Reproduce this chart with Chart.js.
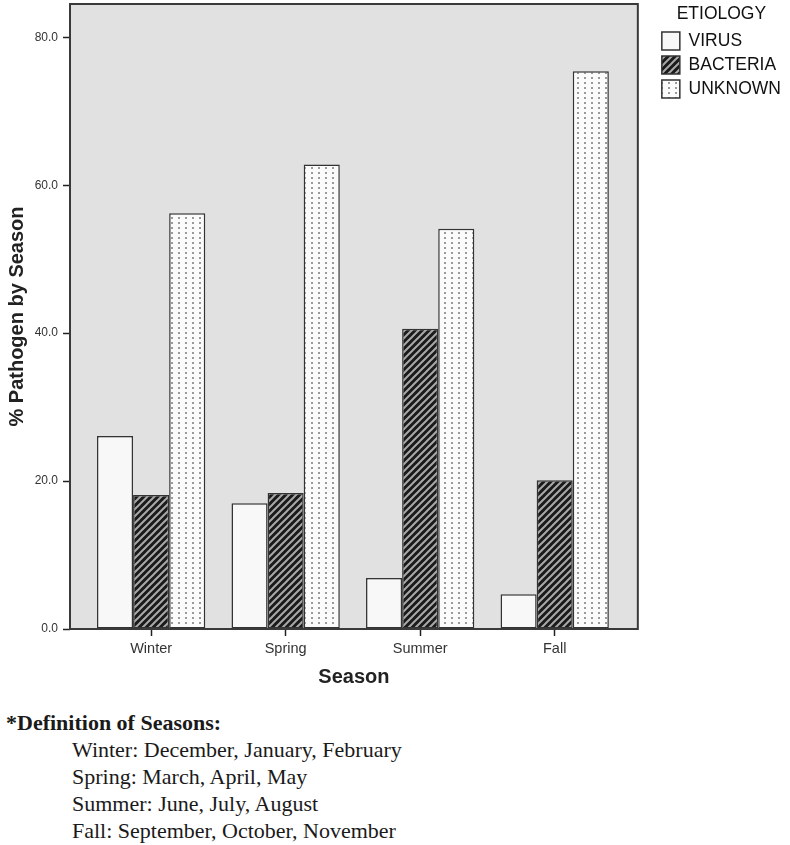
<!DOCTYPE html>
<html>
<head>
<meta charset="utf-8">
<title>Pathogen by Season</title>
<script src="https://cdn.jsdelivr.net/npm/chart.js@4.4.0/dist/chart.umd.min.js"></script>
<style>
  body { margin: 0; background: #fff; }
  #wrap { position: relative; width: 790px; height: 845px; }
  #chart { position: absolute; left: 0; top: 0; }
  #note {
    position: absolute; left: 0; top: 709px; width: 790px;
    font-family: "Liberation Serif", "Times New Roman", serif;
    font-size: 22px; line-height: 27px; color: #1a1a1a;
  }
  #note .head { padding-left: 6px; font-weight: bold; }
  #note .line { padding-left: 72px; }
</style>
</head>
<body>
<div id="wrap">
  <canvas id="chart" width="790" height="700"></canvas>
  <div id="note">
    <div class="head">*Definition of Seasons:</div>
    <div class="line">Winter: December, January, February</div>
    <div class="line">Spring: March, April, May</div>
    <div class="line">Summer: June, July, August</div>
    <div class="line">Fall: September, October, November</div>
  </div>
</div>
<script>
const seasons = ['Winter', 'Spring', 'Summer', 'Fall']
const virus = [26.1, 17.0, 6.9, 4.7]
const bacteria = [18.1, 18.4, 40.6, 20.1]
const unknown = [56.2, 62.8, 54.1, 75.4]
const yTicks = [0, 20, 40, 60, 80]

// fill patterns like the SPSS print
function stripes() {
  const c = document.createElement('canvas')
  c.width = 7; c.height = 7
  const g = c.getContext('2d')
  g.fillStyle = '#1a1a1a'
  g.fillRect(0, 0, 7, 7)
  g.strokeStyle = '#a8a8a8'
  g.lineWidth = 2
  g.beginPath()
  g.moveTo(-1, 8); g.lineTo(8, -1)
  g.moveTo(-1, 1); g.lineTo(1, -1)
  g.moveTo(6, 8); g.lineTo(8, 6)
  g.stroke()
  return g.createPattern(c, 'repeat')
}

function dots() {
  const c = document.createElement('canvas')
  c.width = 7; c.height = 5
  const g = c.getContext('2d')
  g.fillStyle = '#fbfbfb'
  g.fillRect(0, 0, 7, 5)
  g.fillStyle = '#9a9a9a'
  g.fillRect(3, 2, 2, 2)
  return g.createPattern(c, 'repeat')
}

const toPoints = arr => arr.map((v, i) => ({ x: i, y: v }))

const plotBox = {
  id: 'plotBox',
  beforeDatasetsDraw(chart) {
    const { ctx, chartArea: a } = chart
    ctx.save()
    ctx.fillStyle = '#e1e1e1'
    ctx.fillRect(a.left, a.top, a.width, a.height)
    ctx.restore()
  },
  afterDatasetsDraw(chart) {
    const { ctx, chartArea: a } = chart
    ctx.save()
    ctx.strokeStyle = '#3a3a3a'
    ctx.lineWidth = 2
    ctx.strokeRect(a.left, a.top, a.width, a.height)
    ctx.restore()
  }
}

const edge = '#333333'
const sans = 'Liberation Sans, Arial, sans-serif'
const ctx = document.getElementById('chart')
new Chart(ctx, {
  type: 'bar',
  data: {
    datasets: [
      { label: 'VIRUS', data: toPoints(virus), backgroundColor: '#f8f8f8' },
      { label: 'BACTERIA', data: toPoints(bacteria), backgroundColor: stripes() },
      { label: 'UNKNOWN', data: toPoints(unknown), backgroundColor: dots() }
    ]
  },
  options: {
    responsive: false,
    animation: false,
    layout: { padding: { top: 4, right: 3, left: 0, bottom: 0 } },
    datasets: {
      bar: {
        borderColor: edge,
        borderWidth: 1.5,
        borderSkipped: false,
        categoryPercentage: 0.805,
        barPercentage: 1
      }
    },
    plugins: {
      tooltip: { enabled: false },
      legend: {
        position: 'right',
        align: 'start',
        title: {
          display: true,
          text: 'ETIOLOGY',
          position: 'center',
          color: '#111',
          padding: { top: 1, bottom: 0 },
          font: { family: sans, size: 17.5 }
        },
        labels: {
          boxWidth: 18,
          boxHeight: 18,
          padding: 6,
          color: '#111',
          font: { family: sans, size: 17.5 }
        }
      }
    },
    scales: {
      x: {
        type: 'linear',
        offset: false,
        min: -0.603,
        max: 3.618,
        afterBuildTicks: s => { s.ticks = seasons.map((_, i) => ({ value: i })) },
        ticks: {
          callback: v => seasons[v],
          color: '#333',
          padding: 4,
          font: { family: sans, size: 14.5 }
        },
        grid: { offset: false, drawOnChartArea: false, tickLength: 7, color: '#222', tickWidth: 1.5 },
        border: { display: false },
        title: {
          display: true,
          text: 'Season',
          color: '#222',
          padding: { top: 2, bottom: 11 },
          font: { family: sans, size: 20, weight: 'bold' }
        },
        afterFit: s => { s.height = 71; s.paddingLeft = 0; s.paddingRight = 0 }
      },
      y: {
        min: 0,
        max: 84.5,
        afterBuildTicks: s => { s.ticks = yTicks.map(v => ({ value: v })) },
        ticks: {
          callback: v => v.toFixed(1),
          color: '#333',
          padding: 5,
          font: { family: sans, size: 12 }
        },
        grid: { drawOnChartArea: false, tickLength: 7, color: '#222', tickWidth: 1.5 },
        border: { display: false },
        title: {
          display: true,
          text: '% Pathogen by Season',
          color: '#222',
          padding: { top: 5, bottom: 0 },
          font: { family: sans, size: 20, weight: 'bold' }
        },
        afterFit: s => { s.width = 70; s.paddingTop = 0; s.paddingBottom = 0 }
      },
      // empty spacer between the plot box and the legend
      gap: {
        type: 'linear',
        position: 'right',
        display: true,
        ticks: { display: false },
        grid: { display: false },
        border: { display: false },
        afterFit: s => { s.width = 18; s.paddingTop = 0; s.paddingBottom = 0 }
      }
    }
  },
  plugins: [plotBox]
})
</script>
</body>
</html>
